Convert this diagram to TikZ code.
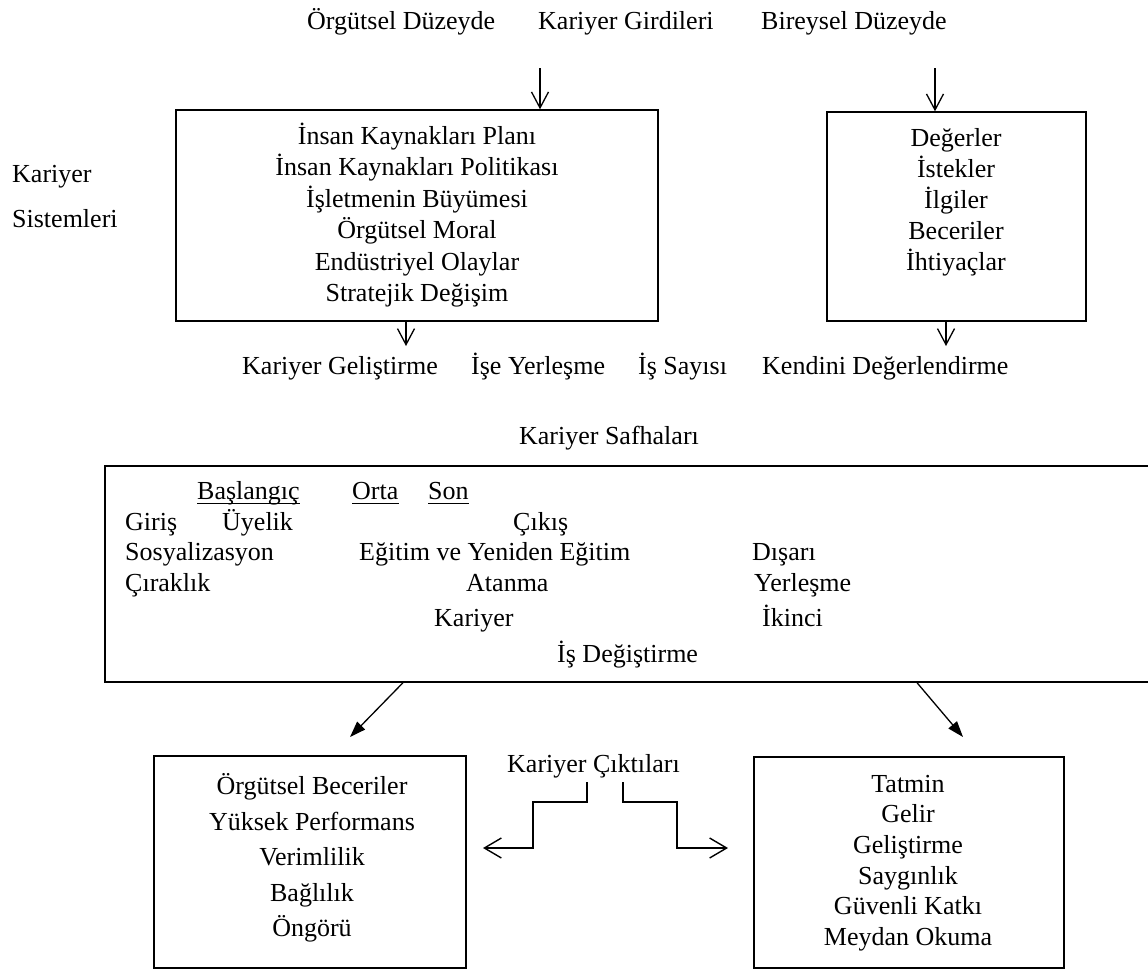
\documentclass[tikz,border=0pt]{standalone}
\usepackage{fontspec}
\setmainfont{Liberation Serif}
\usetikzlibrary{arrows.meta}
\begin{document}
\begin{tikzpicture}[x=1pt,y=-1pt,
  txt/.style={inner sep=0pt, font=\fontsize{26}{31}\selectfont, text height=17pt, text depth=6pt},
  lft/.style={txt, anchor=west},
  blk/.style={inner sep=0pt, align=center},
  boxst/.style={draw, line width=1.4pt, inner sep=0pt},
  vee/.style={line width=1.3pt, -{Straight Barb[length=16pt,width=17pt]}},
  bigvee/.style={line width=1.4pt, -{Straight Barb[length=17pt,width=20pt]}},
  solidtip/.style={line width=1.3pt, -{Triangle[length=16pt,width=11pt]}},
  uln/.style={line width=1.8pt}
]
\useasboundingbox (0,0) rectangle (1148,970);

% top labels
\node[lft] (orgd) at (307,24) {Örgütsel Düzeyde};
\node[lft] (kgir) at (538,24) {Kariyer Girdileri};
\node[lft] (bird) at (761,24) {Bireysel Düzeyde};

% left labels
\node[lft] (ks1) at (12,177) {Kariyer};
\node[lft] (ks2) at (12,222) {Sistemleri};

% box 1
\node[boxst, minimum width=482pt, minimum height=211pt] (b1) at (417,215.5) {};
\node[blk, font=\fontsize{26}{31.4}\selectfont] (t1) at (417,215)
 {İnsan Kaynakları Planı\\İnsan Kaynakları Politikası\\İşletmenin Büyümesi\\Örgütsel Moral\\Endüstriyel Olaylar\\Stratejik Değişim};

% box 2
\node[boxst, minimum width=259pt, minimum height=209pt] (b2) at (956.5,216.5) {};
\node[blk, font=\fontsize{26}{31}\selectfont] (t2) at (956,202)
 {Değerler\\İstekler\\İlgiler\\Beceriler\\İhtiyaçlar};

% arrows into / out of top boxes
\coordinate (a1s) at (540,68);
\coordinate (a2s) at (935,68);
\draw[vee] (a1s) -- (a1s |- b1.north);
\draw[vee] (a2s) -- (a2s |- b2.north);
\coordinate (d1e) at (406,346);
\coordinate (d2e) at (946,346);
\draw[vee] (d1e |- b1.south) -- (d1e);
\draw[vee] (d2e |- b2.south) -- (d2e);

% labels under top boxes
\node[lft] (kgel) at (242,369) {Kariyer Geliştirme};
\node[lft] (iyer) at (471,369) {İşe Yerleşme};
\node[lft] (isay) at (638,369) {İş Sayısı};
\node[lft] (kdeg) at (762,369) {Kendini Değerlendirme};

% Kariyer Safhaları
\node[txt] (ksaf) at (609,439) {Kariyer Safhaları};

% middle box (extends past the right edge)
\begin{scope}
\clip (0,0) rectangle (1148,970);
\node[boxst, minimum width=1060pt, minimum height=216pt] (b3) at (635,574) {};
\end{scope}

\node[lft] (bas) at (197,494) {Başlangıç};
\node[lft] (orta) at (352,494) {Orta};
\node[lft] (son) at (428,494) {Son};
\draw[uln] ([yshift=-4pt]bas.base west) -- ([yshift=-4pt]bas.base east);
\draw[uln] ([yshift=-4pt]orta.base west) -- ([yshift=-4pt]orta.base east);
\draw[uln] ([yshift=-4pt]son.base west) -- ([yshift=-4pt]son.base east);
\node[lft] (gir) at (125,525) {Giriş};
\node[lft] (uye) at (222,525) {Üyelik};
\node[lft] (cik) at (513,525) {Çıkış};
\node[lft] (sos) at (125,555) {Sosyalizasyon};
\node[lft] (egi) at (359,555) {Eğitim ve Yeniden Eğitim};
\node[lft] (dis) at (752,555) {Dışarı};
\node[lft] (cir) at (125,586) {Çıraklık};
\node[lft] (ata) at (466,586) {Atanma};
\node[lft] (yer) at (754,586) {Yerleşme};
\node[lft] (kar) at (434,621) {Kariyer};
\node[lft] (iki) at (762,621) {İkinci};
\node[lft] (isd) at (557,657) {İş Değiştirme};

% diagonal arrows
\coordinate (dl) at (350,737);
\coordinate (dr) at (963,737);
\draw[solidtip] (b3.south -| 403,0) -- (dl);
\draw[solidtip] (b3.south -| 917,0) -- (dr);

% bottom boxes
\node[boxst, minimum width=312pt, minimum height=212pt] (b4) at (310,862) {};
\node[blk, font=\fontsize{26}{35.5}\selectfont] (t4) at (312,858)
 {Örgütsel Beceriler\\Yüksek Performans\\Verimlilik\\Bağlılık\\Öngörü};
\node[boxst, minimum width=310pt, minimum height=211pt] (b5) at (909,862.5) {};
\node[blk, font=\fontsize{26}{30.6}\selectfont] (t5) at (908,863)
 {Tatmin\\Gelir\\Geliştirme\\Saygınlık\\Güvenli Katkı\\Meydan Okuma};

% Kariyer Çıktıları with step connectors
\node[lft] (kcik) at (507,767) {Kariyer Çıktıları};
\coordinate (sl) at (587,782);
\coordinate (sr) at (623,782);
\coordinate (el) at (483,848);
\coordinate (er) at (728,848);
\draw[bigvee] (sl) -- (587,802) -- (533,802) -- (533,848) -- (el);
\draw[bigvee] (sr) -- (623,802) -- (677,802) -- (677,848) -- (er);
\end{tikzpicture}
\end{document}
